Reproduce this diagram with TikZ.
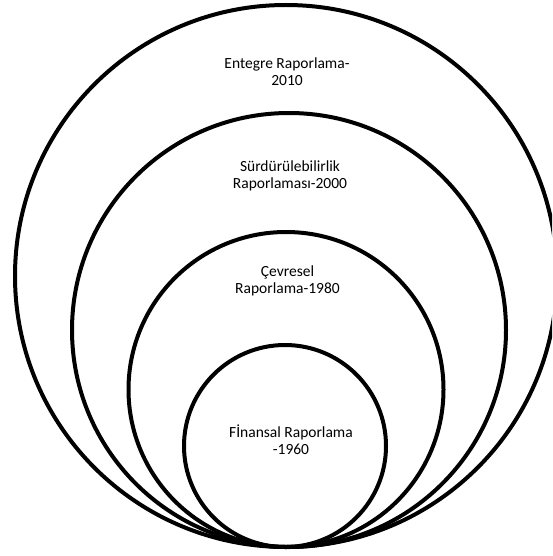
\documentclass[tikz,border=0pt]{standalone}
\usepackage{fontspec}
\setmainfont{Carlito}
\begin{document}
\begin{tikzpicture}[x=1pt,y=-1pt,
  ring/.style={draw=black,line width=4pt,circle,inner sep=0pt},
  lbl/.style={align=center,font=\fontsize{15.5}{16.8}\selectfont,inner sep=0pt}]
\clip (0,0) rectangle (552,556);
\useasboundingbox (0,0) rectangle (552,556);
\node[ring,minimum size=542pt] (c1) at (286,276) {};
\node[ring,minimum size=434pt] (c2) at (289,330) {};
\node[ring,minimum size=315pt] (c3) at (286,389.5) {};
\node[ring,minimum size=202pt] (c4) at (285,446) {};
\node[lbl] (t1) at (287,72) {Entegre Raporlama-\\2010};
\node[lbl] (t2) at (290,176) {Sürdürülebilirlik\\Raporlaması-2000};
\node[lbl] (t3) at (287.5,281) {Çevresel\\Raporlama-1980};
\node[lbl] (t4) at (291,440) {Fİnansal Raporlama\\-1960};
\end{tikzpicture}
\end{document}
